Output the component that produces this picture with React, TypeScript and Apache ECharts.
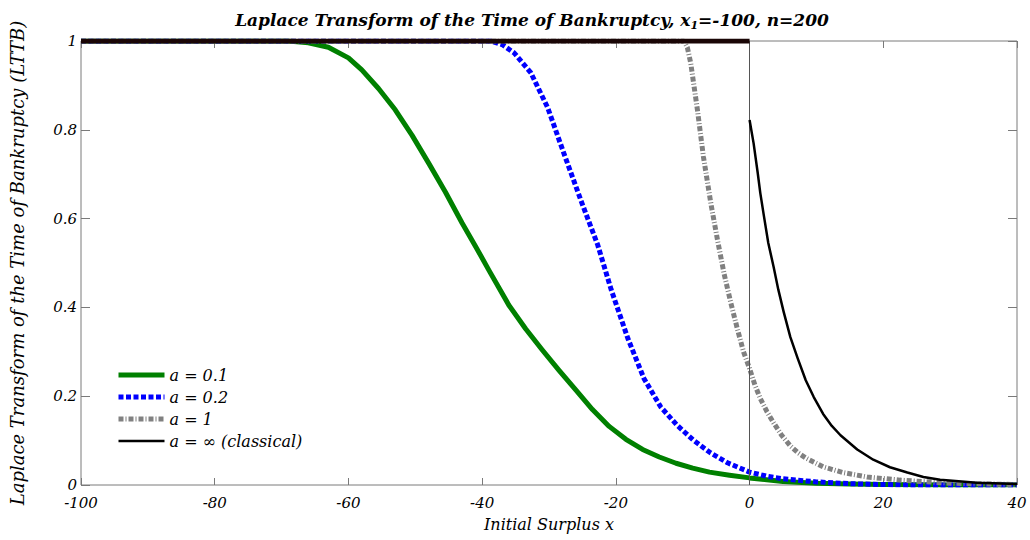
import React, { useEffect, useRef } from "react";
import * as echarts from "echarts";

const xTicks = [-100, -80, -60, -40, -20, 0, 20, 40];
const yTicks = [0, 0.2, 0.4, 0.6, 0.8, 1];

const greenX = [-100, -69, -66, -63, -60, -58, -55.5, -53, -50.5, -48, -45.5, -43, -41, -39, -36, -33.5, -31, -28.5, -26, -23.5, -21, -18.5, -16, -13.5, -11, -8.5, -6, -3, 0, 5, 10, 15, 20, 30, 40];
const greenY = [1, 1, 0.996, 0.986, 0.962, 0.935, 0.893, 0.845, 0.788, 0.725, 0.66, 0.59, 0.538, 0.484, 0.405, 0.352, 0.304, 0.258, 0.214, 0.17, 0.132, 0.103, 0.08, 0.063, 0.049, 0.038, 0.029, 0.022, 0.016, 0.008, 0.004, 0.002, 0.001, 0.0, 0.0];

const blueX = [-100, -38.7, -37, -35.2, -32.7, -30.2, -27.8, -25.2, -22.7, -20.7, -18.2, -15.8, -13.3, -10.8, -8.4, -5.8, -3.3, 0, 2.5, 5, 10, 15, 20, 25, 40];
const blueY = [1, 1, 0.992, 0.973, 0.928, 0.85, 0.748, 0.64, 0.54, 0.44, 0.33, 0.24, 0.176, 0.134, 0.101, 0.072, 0.05, 0.029, 0.02, 0.014, 0.007, 0.003, 0.001, 0.0, 0.0];

const grayX = [-100, -9.8, -9.3, -8.8, -7.8, -6.9, -5.8, -4.8, -3.8, -2.8, -1.8, -0.9, 0, 0.8, 1.6, 2.6, 3.6, 4.8, 6.1, 7.3, 8.5, 11, 14, 17.6, 22.5, 30, 40];
const grayY = [1, 1, 0.985, 0.95, 0.845, 0.739, 0.635, 0.552, 0.475, 0.41, 0.35, 0.3, 0.262, 0.225, 0.195, 0.165, 0.14, 0.112, 0.088, 0.072, 0.06, 0.041, 0.028, 0.018, 0.011, 0.004, 0.001];

const classicLeftX = [-100, 0];
const classicLeftY = [1, 1];
const classicRightX = [0, 0.6, 1.2, 1.6, 2.1, 2.8, 3.6, 4.3, 5.1, 6.1, 7.2, 8.4, 9.6, 11, 12.3, 13.6, 16.1, 18.5, 21, 23.6, 26, 28.5, 34, 40];
const classicRightY = [0.822, 0.77, 0.705, 0.658, 0.61, 0.545, 0.491, 0.44, 0.39, 0.333, 0.285, 0.236, 0.198, 0.16, 0.133, 0.112, 0.08, 0.057, 0.04, 0.028, 0.018, 0.012, 0.005, 0.002];

const seriesNames = ["a = 0.1", "a = 0.2", "a = 1", "a = ∞ (classical)"];

const pairs = (xs: number[], ys: number[]) => xs.map((x, i) => [x, ys[i]]);

const FONT = "DejaVu Serif";
const AXIS_GRAY = "#7a7a7a";

export default function App() {
  const ref = useRef<HTMLDivElement>(null);

  useEffect(() => {
    if (!ref.current) return;
    const chart = echarts.init(ref.current, null, { renderer: "svg" });
    const baseAxisLabel = {
      fontFamily: FONT,
      fontStyle: "italic",
      fontSize: 15,
      color: "#000",
    };
    const hiddenAxisLine = { show: false, onZero: false };
    const option: any = {
      animation: false,
      backgroundColor: "#fff",
      title: {
        text: "{t|Laplace Transform of the Time of Bankruptcy, x}{s|1}{t|=-100, n=200}",
        left: 527,
        textAlign: "center",
        top: 3,
        textStyle: {
          rich: {
            t: { fontFamily: FONT, fontStyle: "italic", fontSize: 17, color: "#000" },
            s: { fontFamily: FONT, fontStyle: "italic", fontSize: 11, color: "#000", padding: [12, 0, 0, 0] },
          },
        },
      },
      grid: {
        left: 79,
        right: 13,
        top: 41,
        bottom: 55,
        show: true,
        borderColor: AXIS_GRAY,
        borderWidth: 1,
        backgroundColor: "#fff",
      },
      legend: {
        orient: "vertical",
        left: 116,
        top: 367,
        padding: 0,
        itemWidth: 46,
        itemHeight: 14,
        itemGap: 6,
        data: seriesNames,
        lineStyle: { width: "inherit", type: "inherit" },
        itemStyle: { opacity: 0 },
        textStyle: { fontFamily: FONT, fontStyle: "italic", fontSize: 16, color: "#000" },
      },
      xAxis: [
        {
          type: "value",
          min: -100,
          max: 40,
          interval: 20,
          name: "Initial Surplus x",
          nameLocation: "middle",
          nameGap: 31,
          nameTextStyle: { fontFamily: FONT, fontStyle: "italic", fontSize: 16, color: "#000" },
          axisLine: hiddenAxisLine,
          axisTick: { show: true, inside: true, length: 7, lineStyle: { color: AXIS_GRAY } },
          splitLine: { show: false },
          axisLabel: { ...baseAxisLabel, margin: 10, showMinLabel: true, showMaxLabel: true, formatter: (v: number) => (xTicks.includes(v) ? String(v) : "") },
        },
        {
          type: "value",
          position: "top",
          min: -100,
          max: 40,
          interval: 20,
          axisLine: hiddenAxisLine,
          axisTick: { show: true, inside: true, length: 7, lineStyle: { color: AXIS_GRAY } },
          splitLine: { show: false },
          axisLabel: { show: false },
        },
      ],
      yAxis: [
        {
          type: "value",
          position: "left",
          min: 0,
          max: 1,
          interval: 0.2,
          name: "Laplace Transform of the Time of Bankruptcy (LTTB)",
          nameLocation: "middle",
          nameGap: 55,
          nameTextStyle: { fontFamily: FONT, fontStyle: "italic", fontSize: 18, color: "#000" },
          axisLine: hiddenAxisLine,
          axisTick: { show: true, inside: true, length: 9, lineStyle: { color: AXIS_GRAY } },
          splitLine: { show: false },
          axisLabel: { ...baseAxisLabel, margin: 4, showMinLabel: true, showMaxLabel: true, formatter: (v: number) => { const t = yTicks.find((k) => Math.abs(k - v) < 1e-9); return t === undefined ? "" : String(+t.toFixed(1)); } },
        },
        {
          type: "value",
          position: "right",
          min: 0,
          max: 1,
          interval: 0.2,
          axisLine: hiddenAxisLine,
          axisTick: { show: true, inside: true, length: 9, lineStyle: { color: AXIS_GRAY } },
          splitLine: { show: false },
          axisLabel: { show: false },
        },
      ],
      series: [
        {
          name: seriesNames[0],
          type: "line",
          xAxisIndex: 0,
          yAxisIndex: 0,
          data: pairs(greenX, greenY),
          showSymbol: false,
          symbol: "none",
          lineStyle: { color: "#008000", width: 5, join: "round" },
          itemStyle: { color: "#008000" },
          z: 2,
        },
        {
          name: seriesNames[1],
          type: "line",
          xAxisIndex: 0,
          yAxisIndex: 0,
          data: pairs(blueX, blueY),
          showSymbol: false,
          symbol: "none",
          lineStyle: { color: "#0000ff", width: 5, type: [5, 2.5] },
          itemStyle: { color: "#0000ff" },
          z: 3,
        },
        {
          name: seriesNames[2],
          type: "line",
          xAxisIndex: 0,
          yAxisIndex: 0,
          data: pairs(grayX, grayY),
          showSymbol: false,
          symbol: "none",
          lineStyle: { color: "#808080", width: 5, type: [5, 2, 1, 2] },
          itemStyle: { color: "#808080" },
          z: 4,
        },
        {
          name: seriesNames[3],
          type: "line",
          xAxisIndex: 0,
          yAxisIndex: 0,
          data: pairs(classicRightX, classicRightY),
          showSymbol: false,
          symbol: "none",
          lineStyle: { color: "#000", width: 2.5, join: "round" },
          itemStyle: { color: "#000" },
          z: 5,
        },
        {
          name: seriesNames[3],
          type: "line",
          xAxisIndex: 0,
          yAxisIndex: 0,
          data: pairs(classicLeftX, classicLeftY),
          showSymbol: false,
          symbol: "none",
          lineStyle: { color: "#1a0606", width: 5 },
          itemStyle: { color: "#000" },
          z: 5,
          markLine: {
            silent: true,
            symbol: "none",
            label: { show: false },
            lineStyle: { color: "#555", width: 1, type: "solid" },
            data: [{ xAxis: 0 }],
          },
        },
      ],
    };
    chart.setOption(option);
    return () => chart.dispose();
  }, []);

  return (
    <div
      ref={ref}
      style={{ position: "absolute", left: 0, top: 0, width: 1030, height: 540 }}
    />
  );
}
